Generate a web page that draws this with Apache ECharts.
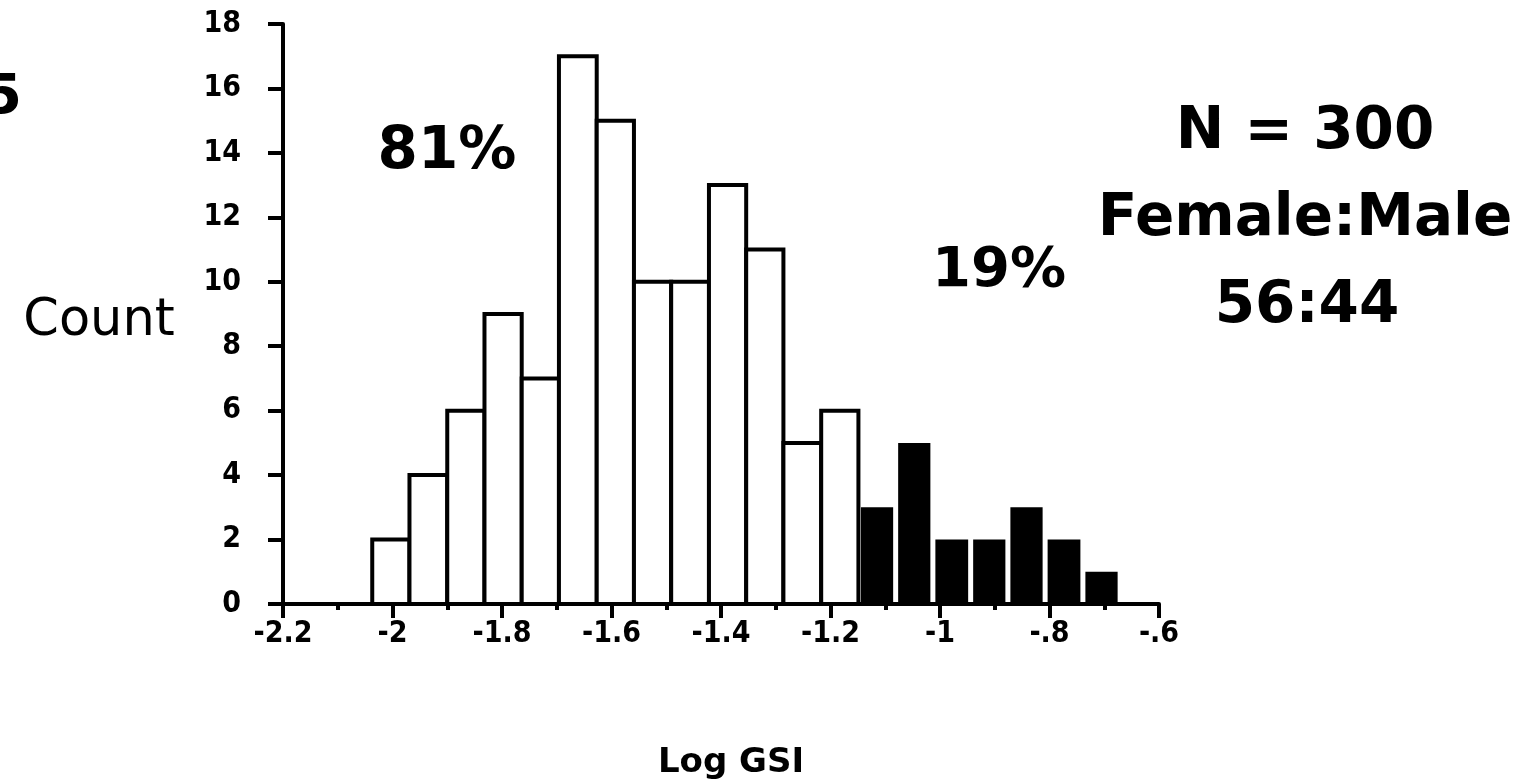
<!DOCTYPE html>
<html>
<head>
<meta charset="utf-8">
<script src="https://cdn.jsdelivr.net/npm/echarts@6/dist/echarts.min.js"></script>
<style>
html,body{margin:0;padding:0;background:#fff;}
#chart{width:1535px;height:783px;}
</style>
</head>
<body>
<div id="chart"></div>
<script>
// Histogram bin edges (Log GSI)
const binEdges = [-2.037, -1.969, -1.900, -1.832, -1.764, -1.696, -1.627, -1.559, -1.491, -1.422,
                  -1.354, -1.286, -1.217, -1.149, -1.081, -1.013, -0.944, -0.876, -0.808, -0.739, -0.671];
// Counts for the lower 81% (white bars) and upper 19% (black bars)
const countsLower = [2, 4, 6, 9, 7, 17, 15, 10, 10, 13, 11, 5, 6];
const countsUpper = [3, 5, 2, 2, 3, 2, 1];
// Axis tick labels
const xTickLabels = ['-2.2', '-2', '-1.8', '-1.6', '-1.4', '-1.2', '-1', '-.8', '-.6'];
const yTicks = [0, 2, 4, 6, 8, 10, 12, 14, 16, 18];
// Texts
const xAxisTitle = 'Log GSI';
const yAxisTitle = 'Count';
const panelLabel = '5';
const pctLower = '81%';
const pctUpper = '19%';
const infoLines = ['N = 300', 'Female:Male', '56:44'];

const lowerData = countsLower.map((c, i) => [binEdges[i], binEdges[i + 1], c]);
const upperData = countsUpper.map((c, i) => [binEdges[countsLower.length + i], binEdges[countsLower.length + i + 1], c]);

const TICKFONT = '"DejaVu Sans Condensed", "DejaVu Sans"';

function makeRender(fill, stroke, lw, shrink) {
  return function (params, api) {
    const p0 = api.coord([api.value(0), api.value(2)]);
    const p1 = api.coord([api.value(1), 0]);
    return {
      type: 'rect',
      shape: { x: p0[0] + shrink, y: p0[1], width: p1[0] - p0[0] - 2 * shrink, height: p1[1] - p0[1] },
      style: { fill: fill, stroke: stroke, lineWidth: lw }
    };
  };
}

const chart = echarts.init(document.getElementById('chart'));
chart.setOption({
  animation: false,
  backgroundColor: '#fff',
  grid: { left: 283, right: 376, top: 24, bottom: 179, containLabel: false },
  xAxis: {
    type: 'value', min: -2.2, max: -0.6, interval: 0.2,
    axisLine: { show: true, onZero: false, lineStyle: { color: '#000', width: 4 } },
    axisTick: { show: true, length: 14, lineStyle: { color: '#000', width: 4 } },
    minorTick: { show: true, splitNumber: 2, length: 6, lineStyle: { color: '#000', width: 4 } },
    splitLine: { show: false },
    axisLabel: {
      color: '#000', fontFamily: TICKFONT, fontWeight: 'bold', fontSize: 30, margin: 15,
      formatter: v => xTickLabels[Math.round((v + 2.2) / 0.2)]
    }
  },
  yAxis: {
    type: 'value', min: yTicks[0], max: yTicks[yTicks.length - 1], interval: 2,
    axisLine: { show: true, lineStyle: { color: '#000', width: 4 } },
    axisTick: { show: true, length: 15, lineStyle: { color: '#000', width: 4 } },
    splitLine: { show: false },
    axisLabel: { color: '#000', fontFamily: TICKFONT, fontWeight: 'bold', fontSize: 30, margin: 42 }
  },
  series: [
    { type: 'custom', renderItem: makeRender('#fff', '#000', 4, 0), data: lowerData, z: 2 },
    { type: 'custom', renderItem: makeRender('#000', null, 0, 2.5), data: upperData, z: 3 }
  ],
  graphic: [
    { type: 'text', x: 22, y: 98, style: { text: panelLabel, fill: '#000', font: 'bold 56px "DejaVu Sans"', textAlign: 'right', textVerticalAlign: 'middle' } },
    { type: 'text', x: 99, y: 322, style: { text: yAxisTitle, fill: '#000', font: '51px "DejaVu Sans"', textAlign: 'center', textVerticalAlign: 'middle' } },
    { type: 'text', x: 731, y: 763, style: { text: xAxisTitle, fill: '#000', font: 'bold 34px "DejaVu Sans"', textAlign: 'center', textVerticalAlign: 'middle' } },
    { type: 'text', x: 447, y: 153, style: { text: pctLower, fill: '#000', font: 'bold 58px "DejaVu Sans"', textAlign: 'center', textVerticalAlign: 'middle' } },
    { type: 'text', x: 999, y: 271, style: { text: pctUpper, fill: '#000', font: 'bold 56px "DejaVu Sans"', textAlign: 'center', textVerticalAlign: 'middle' } },
    { type: 'text', x: 1305, y: 133, style: { text: infoLines[0], fill: '#000', font: 'bold 58px "DejaVu Sans"', textAlign: 'center', textVerticalAlign: 'middle' } },
    { type: 'text', x: 1305, y: 220, style: { text: infoLines[1], fill: '#000', font: 'bold 58px "DejaVu Sans"', textAlign: 'center', textVerticalAlign: 'middle' } },
    { type: 'text', x: 1307, y: 307, style: { text: infoLines[2], fill: '#000', font: 'bold 58px "DejaVu Sans"', textAlign: 'center', textVerticalAlign: 'middle' } }
  ]
});
</script>
</body>
</html>
